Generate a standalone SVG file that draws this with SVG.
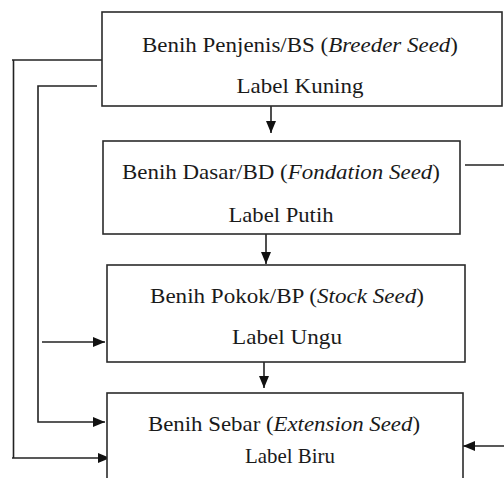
<svg xmlns="http://www.w3.org/2000/svg" width="504" height="478" viewBox="0 0 504 478">
  <style>
    .box { fill: #ffffff; stroke: #2b2b2b; stroke-width: 1.6; }
    .lbl { font-size: 22px; fill: #1a1a1a; text-anchor: middle; }
    .it { font-style: italic; }
    .wire { fill: none; stroke: #222222; stroke-width: 1.6; }
  </style>
  <defs>
    <marker id="arrow" viewBox="0 0 12 10" refX="12" refY="5" markerWidth="12" markerHeight="10" markerUnits="userSpaceOnUse" orient="auto">
      <path d="M0,0 L12,5 L0,10 Z" fill="#111111"/>
    </marker>
  </defs>
  <rect width="504" height="478" fill="#ffffff"/>

  <g id="connectors">
    <!-- main downward chain -->
    <line class="wire" x1="271" y1="106" x2="271" y2="133" marker-end="url(#arrow)"/>
    <line class="wire" x1="266" y1="234" x2="266" y2="264" marker-end="url(#arrow)"/>
    <line class="wire" x1="264" y1="362" x2="264" y2="388" marker-end="url(#arrow)"/>
    <!-- outer loop: BS to Benih Sebar -->
    <polyline class="wire" points="103,60 12,60"/>
    <line class="wire" x1="13.5" y1="60" x2="13.5" y2="458"/>
    <line class="wire" x1="12" y1="458" x2="110" y2="458" marker-end="url(#arrow)"/>
    <!-- inner loop: BS to Benih Sebar -->
    <polyline class="wire" points="97,86 38,86 38,422 105,422" marker-end="url(#arrow)"/>
    <!-- into Benih Pokok -->
    <line class="wire" x1="42" y1="342" x2="105" y2="342" marker-end="url(#arrow)"/>
    <!-- right side -->
    <line class="wire" x1="465" y1="165" x2="504" y2="165"/>
    <line class="wire" x1="504" y1="446" x2="463" y2="446" marker-end="url(#arrow)"/>
  </g>

  <g id="labels" font-family="Liberation Serif, Times New Roman, serif">
  <g id="bs">
    <rect class="box" x="102" y="12" width="400" height="94"/>
    <text class="lbl" x="300" y="52" textLength="316" lengthAdjust="spacingAndGlyphs">Benih Penjenis/BS (<tspan class="it">Breeder Seed</tspan>)</text>
    <text class="lbl" x="300" y="93" textLength="127" lengthAdjust="spacingAndGlyphs">Label Kuning</text>
  </g>

  <g id="bd">
    <rect class="box" x="103" y="141" width="357" height="93"/>
    <text class="lbl" x="281" y="179" textLength="318" lengthAdjust="spacingAndGlyphs">Benih Dasar/BD (<tspan class="it">Fondation Seed</tspan>)</text>
    <text class="lbl" x="281" y="222" textLength="105" lengthAdjust="spacingAndGlyphs">Label Putih</text>
  </g>

  <g id="bp">
    <rect class="box" x="107" y="265" width="358" height="97"/>
    <text class="lbl" x="287" y="303" textLength="274" lengthAdjust="spacingAndGlyphs">Benih Pokok/BP (<tspan class="it">Stock Seed</tspan>)</text>
    <text class="lbl" x="287" y="344" textLength="110" lengthAdjust="spacingAndGlyphs">Label Ungu</text>
  </g>

  <g id="bsebar">
    <rect class="box" x="107" y="393" width="356" height="100"/>
    <text class="lbl" x="284" y="431" textLength="272" lengthAdjust="spacingAndGlyphs">Benih Sebar (<tspan class="it">Extension Seed</tspan>)</text>
    <text class="lbl" x="290" y="463" textLength="90" lengthAdjust="spacingAndGlyphs">Label Biru</text>
  </g>
  </g>
</svg>
